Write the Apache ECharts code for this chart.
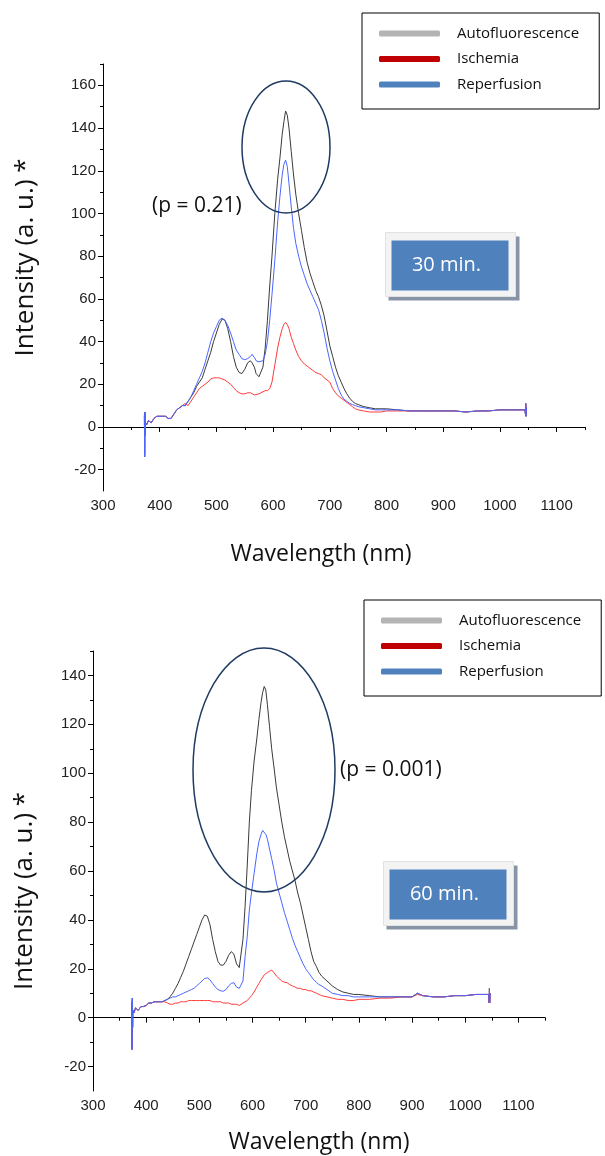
<!DOCTYPE html>
<html><head><meta charset="utf-8">
<script src="https://cdn.jsdelivr.net/npm/echarts@6/dist/echarts.min.js"></script>
<style>html,body{margin:0;padding:0;background:#fff}#c{width:605px;height:1156px}</style>
</head><body><div id="c"></div>
<script>
const SERIES_NAMES = ['Autofluorescence', 'Ischemia', 'Reperfusion'];
const LEGEND_COLORS = ['#b4b4b4', '#c00000', '#4f81bd'];
const LINE_COLORS = ['#3a3a3a', '#ff3b3b', '#4a66ff'];

const X_TICKS = [300, 400, 500, 600, 700, 800, 900, 1000, 1100];
const X_MINOR = [350, 450, 550, 650, 750, 850, 950, 1050, 1150];
const TOP_Y_TICKS = [-20, 0, 20, 40, 60, 80, 100, 120, 140, 160];
const TOP_Y_MINOR = [-10, 10, 30, 50, 70, 90, 110, 130, 150, 170];
const BOT_Y_TICKS = [-20, 0, 20, 40, 60, 80, 100, 120, 140];
const BOT_Y_MINOR = [-10, 10, 30, 50, 70, 90, 110, 130, 150];

// ---- Top panel (30 min.) ----
const T_WL = [373,373.5,374,374.5,375, 377,380,385,390,395, 400,405,410,415,420, 425,430,435,440,445,
  450,455,460,465,470, 475,480,485,490,495, 500,505,510,515,520, 525,530,535,540,545,
  550,555,560,563,567, 570,575,578,582,586, 590,594,598,603,608, 612,616,619,622,625,
  628,632,636,640,645, 650,655,660,665,670, 675,680,685,690,695, 700,705,710,715,720,
  725,730,735,740,745, 750,760,770,780,790, 800,820,840,860,880, 900,920,940,960,980,
  1000,1020,1040,1044,1045, 1045.5,1046,1047];
const T_AUTO = [5,-14,7,-4,2, 1,3,2,4,5, 5,5,5,4,4, 6,8,9,10,10,
  12,14,16,19,21, 23,27,31,35,40, 44,48,50.5,50,46, 40,33,28,25.5,25,
  27,30,31,30,28, 25,23.5,24,28,37, 50,66,80,100,116, 126,137,143,148,146,
  140,129,118,109,100, 92,84,77,72,68, 64,61,57,52,45, 38,33,28,24,21,
  18,15.5,13.5,12,11, 10.5,9.5,9,8.5,8.5, 8.5,8,7.5,7.5,7.5, 7.5,7.5,7,7.5,7.5,
  8,8,8,8,6, 11,5,9];
const T_ISCH = [5,-13,6,-4,2, 1,3,2,4,5, 5,5,5,4,4, 6,8,9,10,11,
  10,12,14,16,18, 19,20,21,22.5,23, 23,23,22.5,22,21, 20,18.5,17,16,15.5,
  15.5,16,16,15.5,15, 15,15.5,16,16.5,17, 17,18,21,29,37, 42,46,48,49,48,
  46,42,39,36,33, 31,29.5,28.5,27.5,26.5, 25.5,25,24.5,23,22, 21,18,16,14.5,13.5,
  12.5,11.5,10.5,9.5,8.5, 8,7.5,7,7,7, 7.5,7.5,7.5,7.5,7.5, 7.5,7.5,7,7.5,7.5,
  8,8,8,8,6, 11,5,9];
const T_REP = [6,-14,7,-3,2, 1,3,2,4,5, 5,5,5,4,4, 6,8,9,10,10,
  12,14,17,20,23, 26,30,35,40,44, 47,50,51,50,47.5, 44,40,36,34,32,
  31.5,32,33,34,32.5, 31,30.5,30,31,34, 40,50,62,78,96, 108,118,123,125,122,
  114,103,93,86,80, 75,71,67,64,61, 58,55,50,44,37, 31,26,22,18,15,
  13,12,11,10.5,10, 9.5,9,8.5,8,8, 8,8,7.5,7.5,7.5, 7.5,7.5,7,7.5,7.5,
  8,8,8,8,6, 11,5,9];

// ---- Bottom panel (60 min.) ----
const B_WL = [373,373.5,374,374.5,375,377,380,385,390,395, 400,405,410,415,420,425,430,435,440,445,
  450,455,460,465,470,475,480,485,490,495, 500,505,510,515,520,525,530,535,540,545,
  550,555,560,565,570,575,578,582,586,590, 594,598,603,608,612,616,619,622,625,628,
  632,636,640,645,650,655,660,665,670,675, 680,685,690,695,700,705,710,715,720,725,
  730,740,750,760,770,780,790,800,820,840, 860,880,900,910,920,940,960,980,1000,1020,
  1040,1044,1045,1045.5,1046,1047];
const B_AUTO = [6,-13,8,-4,3,2,4,3,4.5,4.6, 5,6,6,6.5,6.5,6.5,6.5,7,7.5,8.6,
  10,12,14,16.5,19,22,25,28,31,34, 37,40,42,41.5,38,32,27,23,21.5,21.5,
  23,25.5,27,26,22,20.5,21,32,45.5,62, 80,93,105,114,122,129,133,135.5,134,128,
  119,110,103,94,87,80,74,69,64,60, 56,51,47,42,37,32,27,23,21,18.5,
  17,15,13,11.5,10.5,10,9.5,9.5,9,8.5, 8.5,8.5,8.5,10,9,8.5,8.5,9,9,9.5,
  9.5,9.5,6,12,6,10];
const B_ISCH = [6,-13,8,-4,3,2,4,3,4.5,4.5, 5,6,6,6.5,6.5,6.5,6.5,6.5,6,5.5,
  5.5,6,6,6.5,6.5,6.5,7,7,7,7, 7,7,7,7,7,6.5,6.5,6.5,6.5,6,
  6,6,5.5,5.5,5.5,5,5.5,6,6.5,7, 8,9,10.5,12.5,14,15.5,16.5,17.5,18,18.5,
  19,19.5,18.5,17,16,15,14.5,14.3,13.5,13, 12.5,12,12,11.5,11.5,11,11,10.5,10,9.5,
  9,8.5,8,7.5,7.5,7,7,7.5,7.5,8, 8,8.5,8.5,9.5,9,8.5,8.5,9,9,9.5,
  9.5,9.5,6,12,6,10];
const B_REP = [7,-13,8,-4,3,2,4,3,4.5,4.6, 5,6,6,6.5,6.5,6.5,6.5,7,7.5,8,
  8.5,8.5,9,9.5,10,10.5,11,11.5,12,13, 14,15,16,16.3,15.5,14,12.5,11.5,11,10.8,
  11.5,13,14,14.3,12.5,12,11.5,15,25,33, 44,51,59,67,72,75,76.6,76,75,73,
  69,65,61,55,51,47,43,39.5,36,32.5, 29.5,27,24.5,22,20,18.5,17,15.5,14.5,13.5,
  13,11.5,10,9.5,9,9,8.5,8.5,8.5,8.5, 8.5,8.5,8.5,10,9,8.5,8.5,9,9,9.5,
  9.5,9.5,6,12,6,10];

const pairs = (xs, ys) => xs.map((x, i) => [x, ys[i]]);

const TICK_FONT = "'Liberation Sans Narrow','Arial Narrow','Liberation Sans',sans-serif";
const TEXT_FONT = "'Open Sans','Noto Sans',sans-serif";
const plain = v => String(v);

function mainX(grid, gap, pad) {
  return {
    gridIndex: grid, type: 'value', position: 'bottom', min: 300, max: 1150,
    axisLine: { show: true, lineStyle: { color: '#000', width: 1 } },
    axisTick: { show: true, customValues: X_TICKS, length: 5, lineStyle: { color: '#000' } },
    axisLabel: { customValues: X_TICKS, formatter: plain, margin: 7, fontFamily: TICK_FONT, fontSize: 15, color: '#222' },
    splitLine: { show: false },
    name: 'Wavelength (nm)', nameLocation: 'middle', nameGap: gap,
    nameTextStyle: { fontFamily: TEXT_FONT, fontSize: 23, color: '#111', padding: pad }
  };
}
function minorX(grid) {
  return {
    gridIndex: grid, type: 'value', position: 'bottom', min: 300, max: 1150,
    axisLine: { show: false },
    axisTick: { show: true, customValues: X_MINOR, length: 3, lineStyle: { color: '#000' } },
    axisLabel: { show: false }, splitLine: { show: false }
  };
}
function mainY(grid, min, max, ticks, gap, pad) {
  return {
    gridIndex: grid, type: 'value', position: 'left', min: min, max: max,
    axisLine: { show: true, lineStyle: { color: '#000', width: 1 } },
    axisTick: { show: true, customValues: ticks, length: 5, lineStyle: { color: '#000' } },
    axisLabel: { customValues: ticks, formatter: plain, margin: 7, fontFamily: TICK_FONT, fontSize: 15, color: '#222' },
    splitLine: { show: false },
    name: 'Intensity (a. u.) *', nameLocation: 'middle', nameGap: gap,
    nameTextStyle: { fontFamily: TEXT_FONT, fontSize: 26, color: '#111', padding: pad }
  };
}
function minorY(grid, min, max, ticks) {
  return {
    gridIndex: grid, type: 'value', position: 'left', min: min, max: max,
    axisLine: { show: false },
    axisTick: { show: true, customValues: ticks, length: 3, lineStyle: { color: '#000' } },
    axisLabel: { show: false }, splitLine: { show: false }
  };
}
function legend(left, top) {
  return {
    orient: 'vertical', left: left, top: top,
    padding: [11, 20, 15, 17], itemGap: 6.5, itemWidth: 61, itemHeight: 6, icon: 'roundRect',
    borderColor: '#000', borderWidth: 1, backgroundColor: '#fff',
    textStyle: { fontFamily: TEXT_FONT, fontSize: 15, color: '#111', lineHeight: 19, padding: [0, 0, 0, 12] },
    data: SERIES_NAMES.map((n, i) => ({ name: n, itemStyle: { color: LEGEND_COLORS[i] } }))
  };
}
function lines(xi, yi, wl, arrs) {
  return arrs.map((ys, i) => ({
    name: SERIES_NAMES[i], type: 'line', xAxisIndex: xi, yAxisIndex: yi,
    data: pairs(wl, ys), showSymbol: false, symbol: 'none', smooth: false,
    lineStyle: { color: LINE_COLORS[i], width: 1 }, itemStyle: { color: LINE_COLORS[i] },
    z: 2 + i
  }));
}
function timeBox(x, y, label) {
  return {
    type: 'group', left: x, top: y, z: 50,
    children: [
      { type: 'rect', shape: { x: 3, y: 4, width: 131, height: 64 }, style: { fill: '#8794a8' } },
      { type: 'rect', shape: { x: 0, y: 0, width: 130, height: 64 }, style: { fill: '#f3f3f3', stroke: '#e2e2e2', lineWidth: 1 } },
      { type: 'rect', shape: { x: 6, y: 8, width: 117, height: 50 }, style: { fill: '#4f81bd' } },
      { type: 'text', x: 61, y: 33, style: { text: label, fill: '#fff', font: "20px 'Open Sans','Noto Sans',sans-serif", textAlign: 'center', textVerticalAlign: 'middle' } }
    ]
  };
}

const chart = echarts.init(document.getElementById('c'), null, { renderer: 'canvas' });
chart.setOption({
  animation: false,
  backgroundColor: '#fff',
  grid: [
    { left: 103, top: 64, width: 482, height: 427 },
    { left: 93, top: 651, width: 452, height: 440 }
  ],
  xAxis: [mainX(0, 52, [0, 46, 0, 0]), minorX(0), mainX(1, 40, 0), minorX(1)],
  yAxis: [
    mainY(0, -30, 170, TOP_Y_TICKS, 64, [0, 0, 0, 40]), minorY(0, -30, 170, TOP_Y_MINOR),
    mainY(1, -30, 150, BOT_Y_TICKS, 55, [0, 40, 0, 0]), minorY(1, -30, 150, BOT_Y_MINOR)
  ],
  legend: [legend(362, 13), legend(364, 600)],
  series: [].concat(
    lines(0, 0, T_WL, [T_AUTO, T_ISCH, T_REP]),
    lines(2, 2, B_WL, [B_AUTO, B_ISCH, B_REP])
  ),
  graphic: [
    { type: 'ellipse', shape: { cx: 286, cy: 147, rx: 44, ry: 66 }, style: { fill: 'none', stroke: '#1f3a63', lineWidth: 1.5 }, z: 40 },
    { type: 'ellipse', shape: { cx: 264, cy: 770, rx: 71, ry: 122 }, style: { fill: 'none', stroke: '#1f3a63', lineWidth: 1.5 }, z: 40 },
    { type: 'text', x: 152, y: 206, z: 40, style: { text: '(p = 0.21)', fill: '#111', font: "21px 'Open Sans','Noto Sans',sans-serif", textVerticalAlign: 'middle' } },
    { type: 'text', x: 340, y: 770, z: 40, style: { text: '(p = 0.001)', fill: '#111', font: "21px 'Open Sans','Noto Sans',sans-serif", textVerticalAlign: 'middle' } },
    timeBox(385, 232, '30 min.'),
    timeBox(383, 861, '60 min.')
  ]
});
</script>
</body></html>
